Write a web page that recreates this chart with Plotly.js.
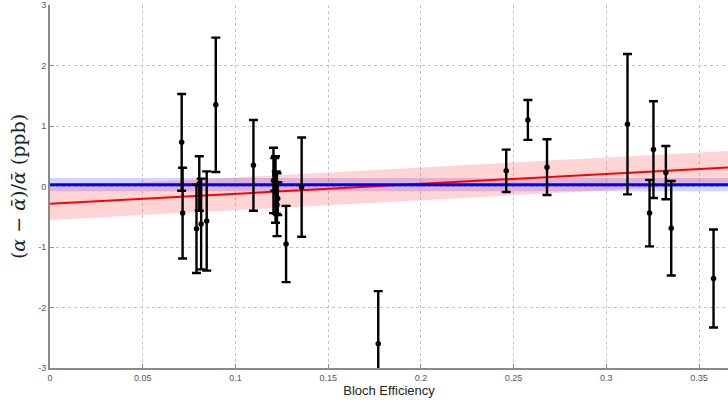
<!DOCTYPE html>
<html>
<head>
<meta charset="utf-8">
<script src="https://cdn.plot.ly/plotly-3.0.1.min.js"></script>
<style>html,body{margin:0;padding:0;background:#fff;}#chart{width:728px;height:407px;}</style>
</head>
<body>
<div id="chart"></div>
<script>
// Measurements: Bloch efficiency, relative deviation (ppb), 1-sigma error
const blochEff = [0.0710, 0.0715, 0.0790, 0.0805, 0.0815, 0.0845, 0.0894,
  0.1097, 0.1205, 0.1212, 0.1216, 0.1220, 0.1224, 0.1228, 0.1273, 0.1357,
  0.1770, 0.2460, 0.2577, 0.2680, 0.3114, 0.3233, 0.3254, 0.3321, 0.3350, 0.3578];
const deviation = [0.73, -0.44, -0.70, 0.05, -0.62, -0.57, 1.35,
  0.35, 0.10, 0.20, -0.05, -0.10, -0.30, -0.20, -0.95, -0.01,
  -2.60, 0.26, 1.10, 0.32, 1.03, -0.44, 0.61, 0.23, -0.69, -1.52];
const errors = [0.80, 0.75, 0.73, 0.45, 0.75, 0.82, 1.11,
  0.75, 0.54, 0.27, 0.55, 0.35, 0.52, 0.27, 0.63, 0.82,
  0.87, 0.35, 0.33, 0.46, 1.16, 0.55, 0.80, 0.44, 0.78, 0.81];

// Constant fit (blue) and linear fit (red) with confidence bands
const fitX = [0, 0.3656];
const constFit = [0.03, 0.03];
const constLower = [-0.08, -0.08];
const constUpper = [0.14, 0.14];
const linFit = [-0.285, 0.316];
const linLower = [-0.555, 0.046];
const linUpper = [-0.015, 0.586];

const yTicks = [-3, -2, -1, 0, 1, 2, 3];
const yTickText = ['-3', '-2', '-1', '0', '1', '2', '3'];
const xTicks = [0, 0.05, 0.1, 0.15, 0.2, 0.25, 0.3, 0.35];
const xTickText = ['0', '0.05', '0.1', '0.15', '0.2', '0.25', '0.3', '0.35'];

const traces = [
  {x: fitX, y: constLower, mode: 'lines', line: {width: 0}, hoverinfo: 'skip', showlegend: false},
  {x: fitX, y: constUpper, mode: 'lines', line: {width: 0}, fill: 'tonexty', fillcolor: 'rgba(60,60,255,0.22)', hoverinfo: 'skip', showlegend: false},
  {x: fitX, y: linLower, mode: 'lines', line: {width: 0}, hoverinfo: 'skip', showlegend: false},
  {x: fitX, y: linUpper, mode: 'lines', line: {width: 0}, fill: 'tonexty', fillcolor: 'rgba(255,60,60,0.22)', hoverinfo: 'skip', showlegend: false},
  {x: fitX, y: linFit, mode: 'lines', line: {color: '#ff0000', width: 2}, showlegend: false},
  {x: fitX, y: constFit, mode: 'lines', line: {color: '#0000ff', width: 3}, showlegend: false},
  {x: blochEff, y: deviation, mode: 'markers', type: 'scatter',
   marker: {color: '#000', size: 5.5},
   error_y: {type: 'data', array: errors, visible: true, color: '#000', thickness: 2.4, width: 4.5},
   showlegend: false}
];

const layout = {
  width: 728, height: 407,
  margin: {l: 50, r: 0, t: 5, b: 39},
  paper_bgcolor: '#fff', plot_bgcolor: '#fff',
  showlegend: false,
  font: {family: 'Liberation Sans, Arial, sans-serif', color: '#555'},
  xaxis: {
    range: [0, 0.3656], tickvals: xTicks, ticktext: xTickText,
    showgrid: true, gridcolor: '#c4c4c4', griddash: 'dot', gridwidth: 1,
    zeroline: false, showline: true, linecolor: '#8a8a8a', linewidth: 2,
    ticks: 'inside', ticklen: 4, tickcolor: '#8a8a8a',
    tickfont: {size: 9, color: '#555'},
    title: {text: 'Bloch Efficiency', font: {size: 13, color: '#222', family: 'Liberation Sans, Arial, sans-serif'}, standoff: 4}
  },
  yaxis: {
    range: [-3, 3], tickvals: yTicks, ticktext: yTickText,
    showgrid: true, gridcolor: '#c4c4c4', griddash: 'dot', gridwidth: 1,
    zeroline: false, showline: true, linecolor: '#8a8a8a', linewidth: 2,
    ticks: 'inside', ticklen: 4, tickcolor: '#8a8a8a',
    tickfont: {size: 9, color: '#555'},
    title: {text: '(<i>α</i> − <i>ᾱ</i>)/<i>ᾱ</i> (ppb)', font: {size: 19, color: '#222', family: 'DejaVu Serif, Liberation Serif, serif'}, standoff: 8}
  }
};

Plotly.newPlot('chart', traces, layout, {displayModeBar: false, staticPlot: true});
</script>
</body>
</html>
